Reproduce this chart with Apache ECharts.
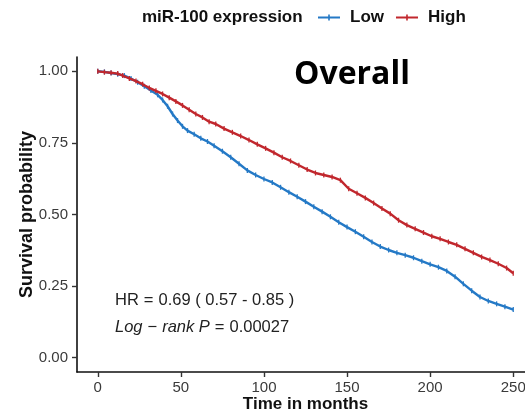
<!DOCTYPE html>
<html>
<head>
<meta charset="utf-8">
<script src="https://cdn.jsdelivr.net/npm/echarts@6/dist/echarts.min.js"></script>
<style>
  html, body { margin: 0; padding: 0; background: #ffffff; }
  #chart { width: 525px; height: 414px; }
</style>
</head>
<body>
<div id="chart"></div>
<script>
// Kaplan-Meier survival estimates by miR-100 expression group
const groupNames = ['Low', 'High'];
const groupColors = ['#2479C6', '#C1272D'];

const lowTime = [0, 4, 8, 12, 16, 20, 24, 28, 32, 36, 39, 42, 45, 48, 51, 54, 58, 62, 66, 70,
  75, 80, 85, 90, 95, 100, 105, 110, 115, 120, 125, 130, 135, 140, 145, 150, 155, 160, 165, 170,
  175, 180, 185, 190, 195, 200, 205, 210, 215, 220, 225, 230, 235, 240, 245, 250];
const lowSurv = [1.000, 0.998, 0.994, 0.990, 0.985, 0.975, 0.962, 0.948, 0.933, 0.918, 0.900, 0.878,
  0.851, 0.828, 0.808, 0.793, 0.780, 0.766, 0.755, 0.740, 0.721, 0.700, 0.677, 0.654, 0.638, 0.624,
  0.612, 0.595, 0.578, 0.562, 0.545, 0.527, 0.510, 0.492, 0.473, 0.456, 0.440, 0.422, 0.404, 0.388,
  0.376, 0.366, 0.358, 0.349, 0.337, 0.326, 0.316, 0.303, 0.283, 0.258, 0.234, 0.212, 0.198, 0.188,
  0.178, 0.168];

const highTime = [0, 4, 8, 12, 15, 19, 23, 27, 31, 35, 39, 43, 47, 51, 55, 59, 63, 67, 71, 76,
  81, 86, 91, 96, 101, 106, 111, 116, 121, 126, 131, 136, 141, 146, 151, 156, 161, 166, 171, 176,
  181, 186, 191, 196, 201, 206, 211, 216, 221, 226, 231, 236, 241, 246, 250];
const highSurv = [1.000, 0.997, 0.995, 0.992, 0.985, 0.975, 0.966, 0.955, 0.942, 0.932, 0.921, 0.908,
  0.895, 0.881, 0.866, 0.851, 0.839, 0.824, 0.816, 0.800, 0.787, 0.774, 0.760, 0.745, 0.731, 0.716,
  0.700, 0.687, 0.672, 0.657, 0.645, 0.638, 0.631, 0.620, 0.590, 0.574, 0.558, 0.540, 0.521, 0.503,
  0.480, 0.463, 0.450, 0.437, 0.424, 0.415, 0.404, 0.394, 0.380, 0.366, 0.352, 0.341, 0.328, 0.313,
  0.295];

const xTicks = [0, 50, 100, 150, 200, 250];
const yTicks = [0, 0.25, 0.5, 0.75, 1];

const legendTitle = 'miR-100 expression';
const panelLabel = 'Overall';

const FONT = '"Liberation Sans", Arial, sans-serif';

function pairs(xs, ys) {
  return xs.map((x, i) => [x, ys[i]]);
}

const chart = echarts.init(document.getElementById('chart'), null, { renderer: 'canvas' });

const annoRich = {
  t: { font: '16.5px ' + FONT, fill: '#222' },
  i: { font: 'italic 16.5px ' + FONT, fill: '#222' },
  op: { font: '16.5px ' + FONT, fill: '#222', padding: [0, 5, 0, 5] }
};

// curve with small vertical censor ticks
function kmSeries(name, color, data, z) {
  return {
    name: name,
    type: 'line',
    data: data,
    showSymbol: true,
    symbol: 'rect',
    symbolSize: [1.3, 5],
    color: color,
    lineStyle: { width: 2.4, color: color },
    itemStyle: { color: color },
    emphasis: { disabled: true },
    z: z
  };
}

chart.setOption({
  backgroundColor: '#ffffff',
  animation: false,
  textStyle: { fontFamily: FONT },
  grid: { left: 77, top: 57, width: 457, height: 315, containLabel: false, outerBoundsMode: 'none' },
  legend: {
    data: groupNames,
    left: 318,
    top: 9,
    padding: 0,
    orient: 'horizontal',
    itemWidth: 22,
    itemHeight: 6,
    itemGap: 12,
    icon: 'path://M0,2H22V4H0Z M10.2,0H11.8V6H10.2Z',
    textStyle: { fontFamily: FONT, fontSize: 17, fontWeight: 'bold', color: '#111', padding: [0, 0, 0, 5] }
  },
  xAxis: {
    type: 'value',
    min: -12.5,
    max: 262.5,
    name: 'Time in months',
    nameLocation: 'middle',
    nameGap: 24,
    nameMoveOverlap: false,
    nameTextStyle: { fontFamily: FONT, fontSize: 17, fontWeight: 'bold', color: '#111' },
    axisLine: { show: true, onZero: false, lineStyle: { color: '#111', width: 1.6 } },
    axisTick: { show: true, length: 5, customValues: xTicks, lineStyle: { color: '#333', width: 1.4 } },
    axisLabel: { customValues: xTicks, margin: 8, fontSize: 15, color: '#3a3a3a', fontFamily: FONT },
    splitLine: { show: false }
  },
  yAxis: {
    type: 'value',
    min: -0.05,
    max: 1.05,
    name: 'Survival probability',
    nameLocation: 'middle',
    nameGap: 41,
    nameMoveOverlap: false,
    nameTextStyle: { fontFamily: FONT, fontSize: 18, fontWeight: 'bold', color: '#111' },
    axisLine: { show: true, onZero: false, lineStyle: { color: '#111', width: 1.6 } },
    axisTick: { show: true, length: 5, customValues: yTicks, lineStyle: { color: '#333', width: 1.4 } },
    axisLabel: {
      customValues: yTicks, margin: 9, fontSize: 15, color: '#3a3a3a', fontFamily: FONT,
      formatter: v => v.toFixed(2)
    },
    splitLine: { show: false }
  },
  series: [
    kmSeries(groupNames[0], groupColors[0], pairs(lowTime, lowSurv), 3),
    kmSeries(groupNames[1], groupColors[1], pairs(highTime, highSurv), 4)
  ],
  graphic: [
    {
      type: 'text', x: 142, y: 17,
      style: { text: legendTitle, font: 'bold 17px ' + FONT, fill: '#111', verticalAlign: 'middle' }
    },
    {
      type: 'text', x: 294, y: 75,
      style: { text: panelLabel, font: 'bold 32px "Open Sans", "Noto Sans", sans-serif', fill: '#000', verticalAlign: 'middle' }
    },
    {
      type: 'text', x: 115, y: 300,
      style: {
        text: '{t|HR}{op|=}{t|0.69 ( 0.57 - 0.85 )}',
        verticalAlign: 'middle',
        rich: annoRich
      }
    },
    {
      type: 'text', x: 115, y: 327,
      style: {
        text: '{i|Log}{op|−}{i|rank P}{op|=}{t|0.00027}',
        verticalAlign: 'middle',
        rich: annoRich
      }
    }
  ]
});
</script>
</body>
</html>
